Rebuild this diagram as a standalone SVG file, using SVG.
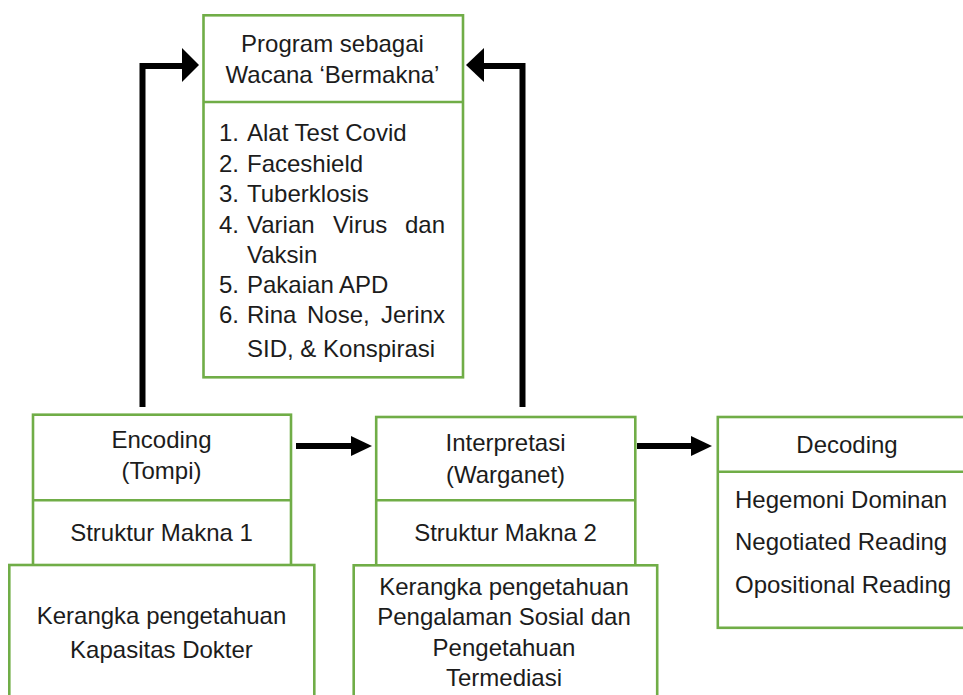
<svg xmlns="http://www.w3.org/2000/svg" width="963" height="695" viewBox="0 0 963 695">
  <style>
    .box { fill: #ffffff; stroke: #70AD47; stroke-width: 2.6; }
    .div { stroke: #70AD47; stroke-width: 2.6; fill: none; }
    .t { font-family: "Liberation Sans", Arial, sans-serif; font-size: 24px; fill: #1c1c1c; }
    .c { text-anchor: middle; }
    .e { text-anchor: end; }
    .conn { fill: none; stroke: #000000; stroke-width: 6; stroke-linejoin: miter; }
    .head { fill: #000000; stroke: none; }
  </style>
  <rect x="0" y="0" width="963" height="695" fill="#ffffff"/>

  <g id="connectors">
    <path class="conn" d="M142.5,407 V66 H184"/>
    <polygon class="head" points="182,48 199,65 182,82"/>
    <path class="conn" d="M522.5,407 V66 H482"/>
    <polygon class="head" points="484,48 466,65 484,82"/>
    <path class="conn" d="M296,446 H353"/>
    <polygon class="head" points="351,436 372,446 351,456"/>
    <path class="conn" d="M637,446 H693"/>
    <polygon class="head" points="691,436 712,446 691,456"/>
  </g>

  <g id="program">
    <rect class="box" x="203.5" y="15.3" width="259.5" height="362"/>
    <line class="div" x1="203.5" y1="102" x2="463" y2="102"/>
    <text class="t c" x="332.5" y="51.5">Program sebagai</text>
    <text class="t c" x="332.5" y="83.3">Wacana ‘Bermakna’</text>
    <text class="t" x="219" y="141">1.</text><text class="t" x="247" y="141">Alat Test Covid</text>
    <text class="t" x="219" y="172">2.</text><text class="t" x="247" y="172">Faceshield</text>
    <text class="t" x="219" y="202">3.</text><text class="t" x="247" y="202">Tuberklosis</text>
    <text class="t" x="219" y="232.7">4.</text><text class="t" x="247" y="232.7">Varian</text><text class="t" x="333" y="232.7">Virus</text><text class="t e" x="445" y="232.7">dan</text>
    <text class="t" x="247" y="263.3">Vaksin</text>
    <text class="t" x="219" y="293.3">5.</text><text class="t" x="247" y="293.3">Pakaian APD</text>
    <text class="t" x="219" y="323.3">6.</text><text class="t" x="247" y="323.3">Rina</text><text class="t" x="307" y="323.3">Nose,</text><text class="t e" x="445" y="323.3">Jerinx</text>
    <text class="t" x="247" y="356.7">SID, &amp; Konspirasi</text>
  </g>

  <g id="encoding">
    <rect class="box" x="33" y="414.7" width="258" height="160"/>
    <line class="div" x1="33" y1="500.3" x2="291" y2="500.3"/>
    <text class="t c" x="161.5" y="448.3">Encoding</text>
    <text class="t c" x="161.5" y="479">(Tompi)</text>
    <text class="t c" x="161.5" y="541.3">Struktur Makna 1</text>
  </g>

  <g id="kerangka1">
    <rect class="box" x="9.3" y="565" width="305" height="150"/>
    <text class="t c" x="161.5" y="624">Kerangka pengetahuan</text>
    <text class="t c" x="161.5" y="657.5">Kapasitas Dokter</text>
  </g>

  <g id="interpretasi">
    <rect class="box" x="376.2" y="417" width="259.1" height="160"/>
    <line class="div" x1="376.2" y1="500.3" x2="635.3" y2="500.3"/>
    <text class="t c" x="505.5" y="451">Interpretasi</text>
    <text class="t c" x="505.5" y="483">(Warganet)</text>
    <text class="t c" x="505.5" y="540.5">Struktur Makna 2</text>
  </g>

  <g id="kerangka2">
    <rect class="box" x="353.7" y="565.3" width="303.5" height="150"/>
    <text class="t c" x="504" y="595">Kerangka pengetahuan</text>
    <text class="t c" x="504" y="625.3">Pengalaman Sosial dan</text>
    <text class="t c" x="504" y="655.7">Pengetahuan</text>
    <text class="t c" x="504" y="686">Termediasi</text>
  </g>

  <g id="decoding">
    <rect class="box" x="717.8" y="417" width="270" height="210.8"/>
    <line class="div" x1="717.8" y1="471.7" x2="990" y2="471.7"/>
    <text class="t c" x="847" y="453.3">Decoding</text>
    <text class="t" x="735" y="508.3">Hegemoni Dominan</text>
    <text class="t" x="735" y="550">Negotiated Reading</text>
    <text class="t" x="735" y="592.7">Opositional Reading</text>
  </g>
</svg>
